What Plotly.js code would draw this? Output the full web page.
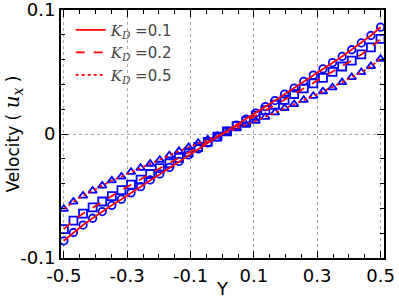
<!DOCTYPE html>
<html>
<head>
<meta charset="utf-8">
<script src="https://cdn.plot.ly/plotly-3.0.1.min.js"></script>
<style>html,body{margin:0;padding:0;background:#fff;}#plot{width:399px;height:299px;}</style>
</head>
<body>
<div id="plot"></div>
<script>
var xVals = [-0.5, -0.4697, -0.4394, -0.4091, -0.3788, -0.3485, -0.3182, -0.2879, -0.2576, -0.2273, -0.197, -0.1667, -0.1364, -0.1061, -0.0758, -0.0455, -0.0152, 0.0152, 0.0455, 0.0758, 0.1061, 0.1364, 0.1667, 0.197, 0.2273, 0.2576, 0.2879, 0.3182, 0.3485, 0.3788, 0.4091, 0.4394, 0.4697, 0.5];
var uKD01 = [-0.0862, -0.0795, -0.0735, -0.0680, -0.0626, -0.0576, -0.0526, -0.0475, -0.0425, -0.0371, -0.0322, -0.0270, -0.0221, -0.0169, -0.0120, -0.0072, -0.0024, 0.0024, 0.0072, 0.0120, 0.0169, 0.0221, 0.0270, 0.0322, 0.0371, 0.0425, 0.0475, 0.0526, 0.0576, 0.0626, 0.0680, 0.0735, 0.0795, 0.0862];
var uKD02 = [-0.0768, -0.0699, -0.0642, -0.0593, -0.0545, -0.0502, -0.0453, -0.0409, -0.0368, -0.0323, -0.0276, -0.0236, -0.0193, -0.0149, -0.0104, -0.0063, -0.0021, 0.0021, 0.0063, 0.0104, 0.0149, 0.0193, 0.0236, 0.0276, 0.0323, 0.0368, 0.0409, 0.0453, 0.0502, 0.0545, 0.0593, 0.0642, 0.0699, 0.0768];
var uKD05 = [-0.0606, -0.0547, -0.0498, -0.0458, -0.0417, -0.0376, -0.0344, -0.0307, -0.0274, -0.0241, -0.0209, -0.0173, -0.0138, -0.0106, -0.0073, -0.0044, -0.0015, 0.0015, 0.0044, 0.0073, 0.0106, 0.0138, 0.0173, 0.0209, 0.0241, 0.0274, 0.0307, 0.0344, 0.0376, 0.0417, 0.0458, 0.0498, 0.0547, 0.0606];
var kdValues = ['0.1', '0.2', '0.5'];
var xTickVals = [-0.5, -0.3, -0.1, 0.1, 0.3, 0.5];
var xTickText = ['-0.5', '-0.3', '-0.1', '0.1', '0.3', '0.5'];
var yTickVals = [-0.1, 0, 0.1];
var yTickText = ['-0.1', '0', '0.1'];

var series = [uKD01, uKD02, uKD05];
var symbols = ['circle-open', 'square-open', 'triangle-up-open'];
var msizes = [7.5, 8, 7.5];
var dashes = ['solid', 'dash', 'dot'];
var traces = [];
for (var i = 0; i < 3; i++) {
  traces.push({x: xVals, y: series[i], mode: 'markers', type: 'scatter', showlegend: false,
    marker: {symbol: symbols[i], size: msizes[i], color: '#0000ff', line: {color: '#0000ff', width: 1.8}}});
}
for (var j = 0; j < 3; j++) {
  traces.push({x: xVals, y: series[j], mode: 'lines', type: 'scatter',
    name: '<span style="font-family:DejaVu Serif"><i>K</i><sub><i>D</i></sub></span> =' + kdValues[j],
    line: {color: '#ff0000', width: 1.8, dash: dashes[j]}});
}

var layout = {
  width: 399, height: 299,
  margin: {l: 61, r: 15, t: 10, b: 41},
  paper_bgcolor: '#fff', plot_bgcolor: '#fff',
  font: {family: 'DejaVu Sans', size: 18, color: '#000'},
  showlegend: true,
  legend: {x: 0.03, y: 0.985, xanchor: 'left', yanchor: 'top', bgcolor: 'rgba(0,0,0,0)', borderwidth: 0,
    font: {family: 'DejaVu Sans', size: 15, color: '#444'}, tracegroupgap: 0},
  xaxis: {range: [-0.509, 0.511], tickmode: 'array', tickvals: xTickVals, ticktext: xTickText,
    ticks: 'inside', ticklen: 7, tickwidth: 1, tickcolor: '#000', ticklabeloverflow: 'allow',
    showline: true, linecolor: '#000', linewidth: 2, mirror: 'allticks',
    showgrid: true, gridcolor: '#aaa', griddash: 'dot', gridwidth: 1, zeroline: false,
    minor: {dtick: 0.05, tick0: -0.5, ticks: 'inside', ticklen: 4, tickcolor: '#000', showgrid: false},
    title: {text: 'Y', font: {size: 18}, standoff: 0}, tickfont: {size: 18}},
  yaxis: {range: [-0.1001, 0.1001], tickmode: 'array', tickvals: yTickVals, ticktext: yTickText,
    ticks: 'inside', ticklen: 7, tickwidth: 1, tickcolor: '#000', ticklabeloverflow: 'allow',
    showline: true, linecolor: '#000', linewidth: 2, mirror: 'allticks',
    showgrid: true, gridcolor: '#aaa', griddash: 'dot', gridwidth: 1, zeroline: false,
    minor: {dtick: 0.02, tick0: -0.1, ticks: 'inside', ticklen: 4, tickcolor: '#000', showgrid: false},
    title: {text: 'Velocity (&nbsp;<span style="font-family:DejaVu Serif;font-size:20px"><i>u</i><sub><i>x</i></sub></span>&nbsp;)', font: {size: 17}, standoff: 3},
    tickfont: {size: 18}}
};
Plotly.newPlot('plot', traces, layout, {displayModeBar: false, staticPlot: true});
</script>
</body>
</html>
